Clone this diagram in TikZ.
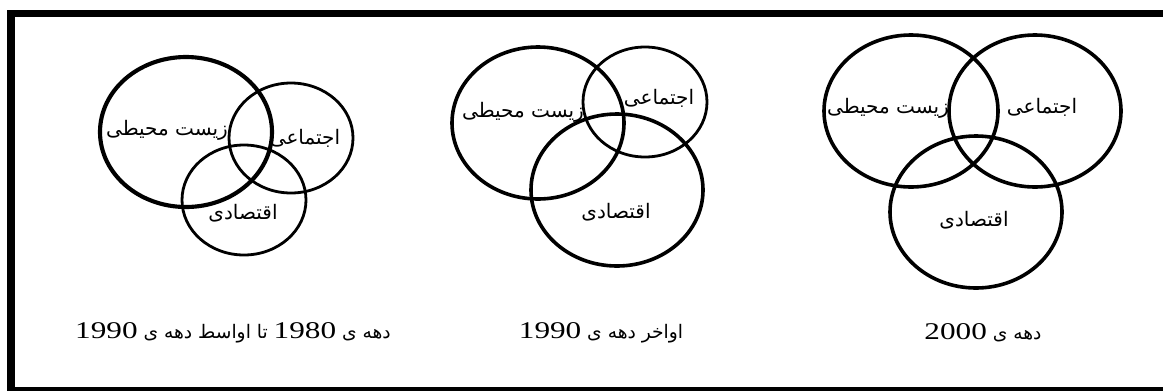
\documentclass[tikz,border=0pt]{standalone}
\usepackage{fontspec}
\usepackage{tikz}
\TeXXeTstate=1
\newfontfamily\farsifont[Script=Arabic]{DejaVu Sans}
\newfontfamily\digitfont[FakeStretch=1.3]{Liberation Serif}

\newcommand{\fa}[1]{{\farsifont\beginR #1\endR}}
\newcommand{\yr}[1]{\beginL{\digitfont\fontsize{18}{20}\selectfont #1}\endL{}}

\begin{document}
\begin{tikzpicture}[x=0.75pt,y=-0.75pt,
    ring/.style={line width=2.7pt},
    thinring/.style={line width=2.1pt},
    lbl/.style={inner sep=0pt,font=\fontsize{15}{17}\selectfont},
    caption/.style={inner sep=0pt,font=\fontsize{14}{16}\selectfont}]
  \useasboundingbox (0,0) rectangle (1163,390);
  % frame, open at the right
  \draw[line width=5.6pt] (1175,13.5) -- (11,13.5) -- (11,395);
  \draw[line width=4.5pt] (8,390) -- (1175,390);

  % 1980s to mid 1990s
  \draw[ring,line width=3.1pt] (186,132) ellipse [x radius=86, y radius=75];
  \draw[thinring] (291,138) ellipse [x radius=62, y radius=55];
  \draw[thinring] (244,200) ellipse [x radius=62, y radius=55];
  \node[lbl] (env1) at (167,130) {\fa{زیست محیطی}};
  \node[lbl] (soc1) at (305,138) {\fa{اجتماعی}};
  \node[lbl] (eco1) at (243,213) {\fa{اقتصادی}};

  % late 1990s
  \draw[ring] (538,123) ellipse [x radius=86, y radius=76];
  \draw[thinring] (645,102) ellipse [x radius=62, y radius=55];
  \draw[ring] (617,190) ellipse [x radius=86, y radius=76];
  \node[lbl] (env2) at (523,112) {\fa{زیست محیطی}};
  \node[lbl] (soc2) at (659,98) {\fa{اجتماعی}};
  \node[lbl] (eco2) at (616,212) {\fa{اقتصادی}};

  % 2000s
  \draw[ring] (911,111) ellipse [x radius=87, y radius=76];
  \draw[ring] (1035,111) ellipse [x radius=86, y radius=76];
  \draw[ring] (976,212) ellipse [x radius=86, y radius=76];
  \node[lbl] (env3) at (888,108) {\fa{زیست محیطی}};
  \node[lbl] (soc3) at (1042,107) {\fa{اجتماعی}};
  \node[lbl] (eco3) at (974,220) {\fa{اقتصادی}};

  % captions
  \node[caption] (cap1) at (233,333)
    {\farsifont\beginR دهه ی \yr{1980} تا اواسط دهه ی \yr{1990}\endR};
  \node[caption] (cap2) at (601,333)
    {\farsifont\beginR اواخر دهه ی \yr{1990}\endR};
  \node[caption] (cap3) at (983,333)
    {\farsifont\beginR دهه ی \yr{2000}\endR};
\end{tikzpicture}
\end{document}
